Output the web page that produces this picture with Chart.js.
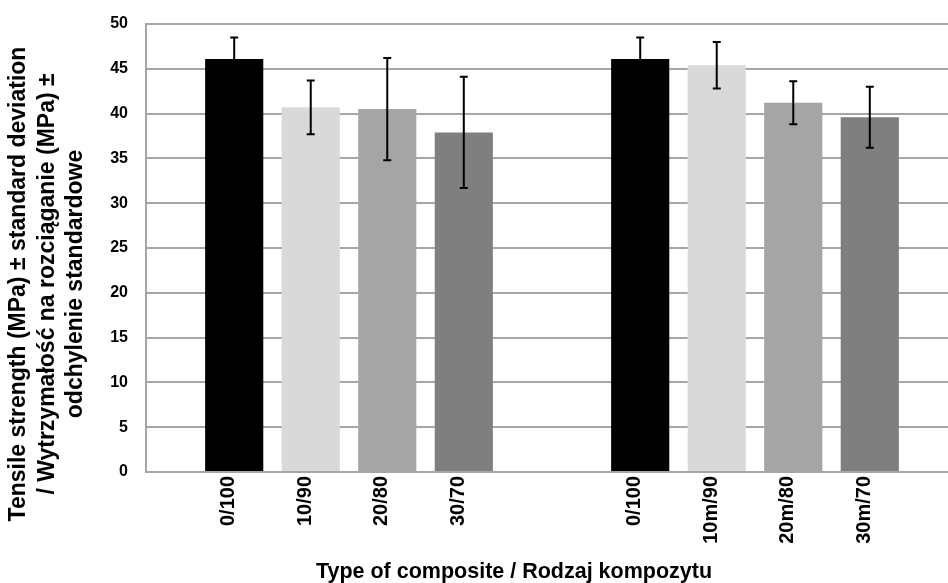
<!DOCTYPE html>
<html>
<head>
<meta charset="utf-8">
<script src="https://cdn.jsdelivr.net/npm/chart.js@4"></script>
<style>
    html, body { margin: 0; padding: 0; background: #fff; overflow: hidden; }
    .wrap { width: 966px; height: 583px; }
</style>
</head>
<body>
<div class="wrap"><canvas id="strengthChart"></canvas></div>
<script>
// ==========================
// DATA
// ==========================
const groups = ["unmodified", "modified"];
const labelsA = ["0/100", "10/90", "20/80", "30/70"];
const labelsB = ["0/100", "10m/90", "20m/80", "30m/70"];
const meansA = [46.1, 40.7, 40.5, 37.9];
const meansB = [46.1, 45.4, 41.2, 39.6];
const sdA = [2.4, 3.0, 5.7, 6.2];
const sdB = [2.4, 2.6, 2.4, 3.4];
const yTicks = [0, 5, 10, 15, 20, 25, 30, 35, 40, 45, 50];
const yTitle = [
    "Tensile strength (MPa) ± standard deviation",
    "/ Wytrzymałość na rozciąganie (MPa) ±",
    "odchylenie standardowe"
];
const xTitle = "Type of composite / Rodzaj kompozytu";

const barColors = ["#000000", "#d9d9d9", "#a5a5a5", "#7f7f7f"];
const tickLabels = [labelsA, labelsB];

const datasets = labelsA.map((_, i) => ({
    label: labelsA[i],
    data: [meansA[i], meansB[i]],
    sd: [sdA[i], sdB[i]],
    backgroundColor: barColors[i],
    categoryPercentage: 0.754,
    barPercentage: 0.76
}));

// ==========================
// ERROR BARS + LABELS
// ==========================
const errorBars = {
    id: "errorBars",
    afterDatasetsDraw(chart) {
        const { ctx, scales: { y } } = chart;
        ctx.save();
        ctx.strokeStyle = "#000";
        ctx.lineWidth = 2;
        chart.data.datasets.forEach((ds, i) => {
            chart.getDatasetMeta(i).data.forEach((bar, j) => {
                const top = y.getPixelForValue(ds.data[j] + ds.sd[j]);
                const bot = y.getPixelForValue(ds.data[j] - ds.sd[j]);
                ctx.beginPath();
                ctx.moveTo(bar.x, top);
                ctx.lineTo(bar.x, bot);
                ctx.moveTo(bar.x - 4, top);
                ctx.lineTo(bar.x + 4, top);
                ctx.moveTo(bar.x - 4, bot);
                ctx.lineTo(bar.x + 4, bot);
                ctx.stroke();
            });
        });
        ctx.restore();
    },
    afterDraw(chart) {
        const { ctx, chartArea } = chart;
        ctx.save();
        ctx.fillStyle = "#000";

        // rotated labels under each bar
        ctx.font = "bold 20px 'Liberation Sans', Arial, sans-serif";
        ctx.textAlign = "right";
        ctx.textBaseline = "alphabetic";
        chart.data.datasets.forEach((ds, i) => {
            chart.getDatasetMeta(i).data.forEach((bar, j) => {
                ctx.save();
                ctx.translate(bar.x, chartArea.bottom + 4);
                ctx.rotate(-Math.PI / 2);
                ctx.fillText(tickLabels[j][i], 0, 0);
                ctx.restore();
            });
        });

        // x axis title
        ctx.font = "bold 21.5px 'Liberation Sans', Arial, sans-serif";
        ctx.textAlign = "center";
        ctx.fillText(xTitle, 514, 578);

        // y axis title, three lines
        ctx.font = "bold 23px 'Liberation Sans', Arial, sans-serif";
        yTitle.forEach((line, k) => {
            ctx.save();
            ctx.translate(25 + k * 28.5, 284);
            ctx.rotate(-Math.PI / 2);
            ctx.fillText(line, 0, 0);
            ctx.restore();
        });
        ctx.restore();
    }
};

// ==========================
// CHART
// ==========================
const ctx = document.getElementById("strengthChart");

new Chart(ctx, {
    type: "bar",
    data: { labels: groups, datasets },
    plugins: [errorBars],
    options: {
        responsive: true,
        maintainAspectRatio: false,
        animation: false,
        layout: { padding: { top: 24, right: 8, bottom: 103, left: 0 } },
        plugins: {
            legend: { display: false },
            tooltip: { enabled: false }
        },
        scales: {
            x: {
                ticks: { display: false },
                grid: { display: false },
                border: { display: false }
            },
            y: {
                min: 0,
                max: 50,
                afterBuildTicks: s => { s.ticks = yTicks.map(v => ({ value: v })); },
                afterFit: s => {
                    s.width = 146;
                    s.paddingTop = 10;
                    s.paddingBottom = 10;
                },
                ticks: {
                    color: "#000",
                    padding: 18,
                    font: { family: "'Liberation Sans', Arial, sans-serif", size: 16, weight: "bold" }
                },
                grid: { color: "#a6a6a6", lineWidth: 2, drawTicks: false },
                border: { color: "#a6a6a6", width: 2 }
            }
        }
    }
});
</script>
</body>
</html>
